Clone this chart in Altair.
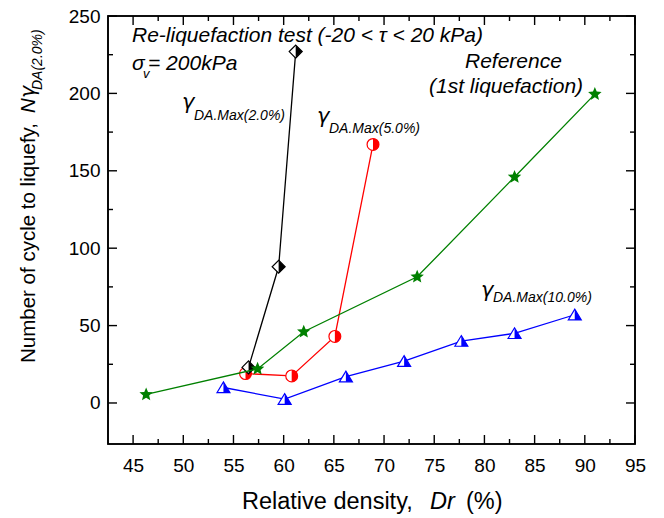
import math
import altair as alt
import pandas as pd

# ---------------- data ----------------
dr_20 = [56.5, 59.5, 61.2]
n_20 = [23, 88, 227]

dr_50 = [56.2, 60.8, 65.1, 68.9]
n_50 = [19, 17.5, 43, 167]

dr_ref = [46.3, 57.4, 62.0, 73.3, 83.0, 91.0]
n_ref = [5.5, 22, 46, 81.5, 146, 199.5]

dr_100 = [54.0, 60.1, 66.2, 72.0, 77.7, 83.0, 89.0]
n_100 = [10, 2.5, 17, 27, 40, 45, 57]

x_major = [45, 50, 55, 60, 65, 70, 75, 80, 85, 90, 95]
x_minor = [47.5, 52.5, 57.5, 62.5, 67.5, 72.5, 77.5, 82.5, 87.5, 92.5]
y_major = [0, 50, 100, 150, 200, 250]
y_minor = [25, 75, 125, 175, 225]

# ---------------- layout ----------------
W, H = 527, 428
XMIN, XMAX = 42.5, 95
YMIN, YMAX = -26.5, 250
PX_X = W / (XMAX - XMIN)   # pixels per x unit
PX_Y = H / (YMAX - YMIN)   # pixels per y unit
FONT = "Liberation Sans"
GFONT = "DejaVu Sans"

xscale = alt.Scale(domain=[XMIN, XMAX], nice=False, zero=False)
yscale = alt.Scale(domain=[YMIN, YMAX], nice=False, zero=False)
xaxis = alt.Axis(values=x_major, title=None, grid=False, domain=False, ticks=False,
                 labelFontSize=19, labelPadding=12, labelColor="black",
                 labelFont=FONT, labelFlush=False, labelOverlap=False)
yaxis = alt.Axis(values=y_major, title=None, grid=False, domain=False, ticks=False,
                 labelFontSize=19, labelPadding=8, labelColor="black",
                 labelFont=FONT, labelFlush=False, labelOverlap=False)
X = alt.X("dr:Q", scale=xscale, axis=xaxis)
Y = alt.Y("n:Q", scale=yscale, axis=yaxis)

# marker shapes (unit paths)
def star_path(R=1.0, r=0.45):
    pts = []
    for k in range(10):
        a = math.radians(-90 + 36 * k)
        rad = R if k % 2 == 0 else r
        pts.append(f"{rad*math.cos(a):.3f},{rad*math.sin(a):.3f}")
    return "M" + "L".join(pts) + "Z"

DIAMOND = "M0,-1L1,0L0,1L-1,0Z"
DIAMOND_HALF = "M0,-1L1,0L0,1Z"
CIRCLE_HALF = "M0,-1A1,1,0,0,1,0,1Z"
TRI = "M-1,0.8L0,-0.85L1,0.8Z"
TRI_HALF = "M0,-0.85L1,0.8L0,0.8Z"
STAR = star_path()


def series(dr, n, color, outline, half, size):
    d = pd.DataFrame({"dr": dr, "n": n})
    base = alt.Chart(d).encode(x=X, y=Y)
    layers = [base.mark_line(color=color, strokeWidth=1.3)]
    if half is None:
        layers.append(base.mark_point(shape=outline, filled=True, fill=color, color=color,
                                      strokeWidth=0, size=size, opacity=1))
    else:
        layers.append(base.mark_point(shape=outline, filled=True, fill="white", stroke=color,
                                      strokeWidth=1.2, size=size, opacity=1))
        layers.append(base.mark_point(shape=half, filled=True, fill=color, color=color,
                                      strokeWidth=0, size=size, opacity=1))
    return layers


# frame and inward ticks drawn as short line segments through the scales
def tick_frame():
    rows = []

    def seg(key, p0, p1):
        rows.append({"dr": p0[0], "n": p0[1], "id": key, "o": 0})
        rows.append({"dr": p1[0], "n": p1[1], "id": key, "o": 1})

    for vals, L, tag in ((x_major, 9, "M"), (x_minor, 5, "m")):
        for i, v in enumerate(vals):
            seg(f"b{tag}{i}", (v, YMIN), (v, YMIN + L / PX_Y))
            seg(f"t{tag}{i}", (v, YMAX), (v, YMAX - L / PX_Y))
    for vals, L, tag in ((y_major, 9, "M"), (y_minor, 5, "m")):
        for i, v in enumerate(vals):
            seg(f"l{tag}{i}", (XMIN, v), (XMIN + L / PX_X, v))
            seg(f"r{tag}{i}", (XMAX, v), (XMAX - L / PX_X, v))
    ticks = alt.Chart(pd.DataFrame(rows)).mark_line(color="black", strokeWidth=1.4).encode(
        x=X, y=Y, detail="id:N", order="o:Q")

    corners = pd.DataFrame({
        "dr": [XMIN, XMAX, XMAX, XMIN, XMIN],
        "n": [YMIN, YMIN, YMAX, YMAX, YMIN],
        "o": [0, 1, 2, 3, 4],
    })
    frame = alt.Chart(corners).mark_line(color="black", strokeWidth=1.6,
                                         strokeJoin="miter", strokeCap="square").encode(
        x=X, y=Y, order="o:Q")
    return [ticks, frame]


def txt(text, px, py, size, italic=True, angle=0, align="left", font=FONT):
    kw = dict(text=text, font=font, fontSize=size, color="black", align=align,
              baseline="alphabetic", angle=angle)
    if italic:
        kw["fontStyle"] = "italic"
    return alt.Chart(pd.DataFrame({"a": [0]})).mark_text(**kw).encode(
        x=alt.value(px), y=alt.value(py))


layers = []
layers += series(dr_100, n_100, "#0000FF", TRI, TRI_HALF, 169)
layers += series(dr_50, n_50, "#FF0000", "circle", CIRCLE_HALF, 140)
layers += series(dr_20, n_20, "#000000", DIAMOND, DIAMOND_HALF, 169)
layers += series(dr_ref, n_ref, "#008000", STAR, None, 200)

# annotations
layers += [
    txt("Re-liquefaction test (-20 < \u03c4 < 20 kPa)", 24, 26, 21),
    txt("\u03c3", 24, 54, 21),
    txt("v", 35, 62, 13),
    txt("= 200kPa", 40, 54, 21),
    txt("\u03b3", 74, 93, 21, font=GFONT),
    txt("DA.Max(2.0%)", 86, 104, 14),
    txt("\u03b3", 209, 107, 21, font=GFONT),
    txt("DA.Max(5.0%)", 221, 117, 14),
    txt("\u03b3", 373, 281, 21, font=GFONT),
    txt("DA.Max(10.0%)", 385, 286, 14),
    txt("Reference", 357, 52, 21),
    txt("(1st liquefaction)", 321, 77, 21),
]

# axis titles
layers += [
    txt("Relative density,", 134, 493, 23.5, italic=False),
    txt("Dr", 322, 493, 23.5),
    txt("(%)", 358, 493, 23.5, italic=False),
    txt("Number of cycle to liquefy,", -73.5, 347, 20.5, italic=False, angle=270),
    txt("N", -73.5, 97, 20.5, angle=270),
    txt("\u03b3", -73.5, 82, 20.5, angle=270, font=GFONT),
    txt("DA(2.0%)", -66.5, 74, 14, angle=270),
]

layers += tick_frame()

chart = alt.layer(*layers).properties(
    width=W, height=H,
    autosize=alt.AutoSizeParams(type="none"),
    padding={"left": 100, "top": 8, "right": 20, "bottom": 72},
).configure_view(stroke="black", strokeWidth=1.6)

chart.save("out.html", embed_options={"renderer": "svg", "actions": False})
